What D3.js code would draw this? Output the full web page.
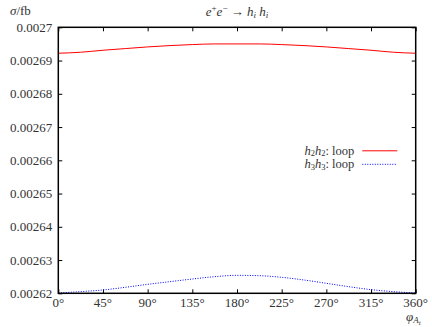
<!DOCTYPE html>
<html>
<head>
<meta charset="utf-8">
<script src="https://cdn.jsdelivr.net/npm/d3@7"></script>
<style>
  body { margin: 0; background: #fff; }
  svg text { font-family: "Liberation Serif", "Times New Roman", Tinos, Times, "DejaVu Serif", "Noto Serif", serif; fill: #333; }
</style>
</head>
<body>
<div id="chart"></div>
<script>
// chart data
var angles = [0, 22.5, 45, 67.5, 90, 112.5, 135, 157.5, 180, 202.5, 225, 247.5, 270, 292.5, 315, 337.5, 360];
var h2h2 = [0.0026922, 0.0026925, 0.0026931, 0.0026936, 0.0026941, 0.0026945, 0.0026948, 0.0026950, 0.0026950, 0.0026950, 0.0026948, 0.0026945, 0.0026941, 0.0026936, 0.0026931, 0.0026925, 0.0026922];
var h3h3 = [0.0026201, 0.0026205, 0.0026210, 0.0026218, 0.0026227, 0.0026235, 0.0026243, 0.0026250, 0.0026254, 0.0026253, 0.0026248, 0.0026240, 0.0026230, 0.0026220, 0.0026211, 0.0026205, 0.0026201];
var xTicks = [0, 45, 90, 135, 180, 225, 270, 315, 360];
var yTicks = [0.00262, 0.00263, 0.00264, 0.00265, 0.00266, 0.00267, 0.00268, 0.00269, 0.0027];

var svgWidth = 432;
var svgHeight = 327;
var margin = { top: 27.3, right: 16.3, bottom: 33.7, left: 58.3 };
var width = svgWidth - margin.left - margin.right;
var height = svgHeight - margin.top - margin.bottom;
var fs = "13px";

var svg = d3.select("#chart")
  .append("svg")
  .attr("width", svgWidth)
  .attr("height", svgHeight);

var chartGroup = svg.append("g")
  .attr("transform", `translate(${margin.left}, ${margin.top})`);

var xScale = d3.scaleLinear().domain([0, 360]).range([0, width]);
var yScale = d3.scaleLinear().domain([0.00262, 0.0027]).range([height, 0]);

// ticks point inward on all four sides
var tickLen = 4;
chartGroup.append("g")
  .attr("transform", `translate(0, ${height})`)
  .call(d3.axisBottom(xScale).tickValues(xTicks).tickSizeInner(-tickLen).tickSizeOuter(0).tickFormat(""));
chartGroup.append("g")
  .call(d3.axisTop(xScale).tickValues(xTicks).tickSizeInner(-tickLen).tickSizeOuter(0).tickFormat(""));
chartGroup.append("g")
  .call(d3.axisLeft(yScale).tickValues(yTicks).tickSizeInner(-tickLen).tickSizeOuter(0).tickFormat(""));
chartGroup.append("g")
  .attr("transform", `translate(${width}, 0)`)
  .call(d3.axisRight(yScale).tickValues(yTicks).tickSizeInner(-tickLen).tickSizeOuter(0).tickFormat(""));
chartGroup.selectAll(".domain").remove();
chartGroup.selectAll(".tick line").attr("stroke", "#000").attr("stroke-width", 1);

// tick labels
chartGroup.selectAll(".xlab")
  .data(xTicks)
  .enter()
  .append("text")
  .attr("x", d => xScale(d))
  .attr("y", height + 14)
  .attr("text-anchor", "middle")
  .attr("font-size", fs)
  .text(d => d + "°");

chartGroup.selectAll(".ylab")
  .data(yTicks)
  .enter()
  .append("text")
  .attr("x", -6)
  .attr("y", d => yScale(d) + 4.5)
  .attr("text-anchor", "end")
  .attr("font-size", fs)
  .text(d => d3.format(".5~f")(d));

// lines
var line = function(vals) {
  return d3.line()
    .x((d, i) => xScale(angles[i]))
    .y(d => yScale(d))
    .curve(d3.curveMonotoneX)(vals);
};

chartGroup.append("path")
  .attr("d", line(h2h2))
  .attr("fill", "none")
  .attr("stroke", "#ff0000")
  .attr("stroke-width", 1);

chartGroup.append("path")
  .attr("d", line(h3h3))
  .attr("fill", "none")
  .attr("stroke", "#0000ff")
  .attr("stroke-width", 1)
  .attr("stroke-dasharray", "1,1.5");

// frame
chartGroup.append("rect")
  .attr("width", width)
  .attr("height", height)
  .attr("fill", "none")
  .attr("stroke", "#000")
  .attr("stroke-width", 1.5);

// legend
var legend = chartGroup.append("g").attr("transform", "translate(296, 123.5)");
var legendRows = [
  { sub: "2", color: "#ff0000", dash: null },
  { sub: "3", color: "#0000ff", dash: "1,1.5" }
];
legendRows.forEach(function(r, i) {
  var t = legend.append("text")
    .attr("x", 0)
    .attr("y", i * 13.5 + 4)
    .attr("text-anchor", "end")
    .attr("font-size", "12.5px");
  t.append("tspan").attr("font-style", "italic").text("h");
  t.append("tspan").attr("font-size", "8.5px").attr("dy", 1.5).text(r.sub);
  t.append("tspan").attr("font-style", "italic").attr("dy", -1.5).text("h");
  t.append("tspan").attr("font-size", "8.5px").attr("dy", 1.5).text(r.sub);
  t.append("tspan").attr("dy", -1.5).text(": loop");
  legend.append("line")
    .attr("x1", 8).attr("x2", 43)
    .attr("y1", i * 13.5).attr("y2", i * 13.5)
    .attr("stroke", r.color)
    .attr("stroke-dasharray", r.dash);
});

// title
var title = svg.append("text")
  .attr("x", margin.left + width / 2)
  .attr("y", 16)
  .attr("text-anchor", "middle")
  .attr("font-size", fs);
title.append("tspan").attr("font-style", "italic").text("e");
title.append("tspan").attr("font-size", "9px").attr("dy", -5).text("+");
title.append("tspan").attr("font-style", "italic").attr("dy", 5).text("e");
title.append("tspan").attr("font-size", "9px").attr("dy", -5).text("−");
title.append("tspan").attr("dy", 5).text(" → ");
title.append("tspan").attr("font-style", "italic").text("h");
title.append("tspan").attr("font-size", "9px").attr("font-style", "italic").attr("dy", 2).text("i");
title.append("tspan").attr("font-style", "italic").attr("dy", -2).text(" h");
title.append("tspan").attr("font-size", "9px").attr("font-style", "italic").attr("dy", 2).text("i");

// y axis title
var yTitle = svg.append("text")
  .attr("x", 10)
  .attr("y", 15)
  .attr("font-size", fs);
yTitle.append("tspan").attr("font-style", "italic").text("σ");
yTitle.append("tspan").text("/fb");

// x axis title
var xTitle = svg.append("text")
  .attr("x", 406)
  .attr("y", 321)
  .attr("font-size", fs);
xTitle.append("tspan").attr("font-style", "italic").text("φ");
xTitle.append("tspan").attr("font-size", "9px").attr("font-style", "italic").attr("dy", 2).text("A");
xTitle.append("tspan").attr("font-size", "7px").attr("font-style", "italic").attr("dy", 2).text("t");
</script>
</body>
</html>
